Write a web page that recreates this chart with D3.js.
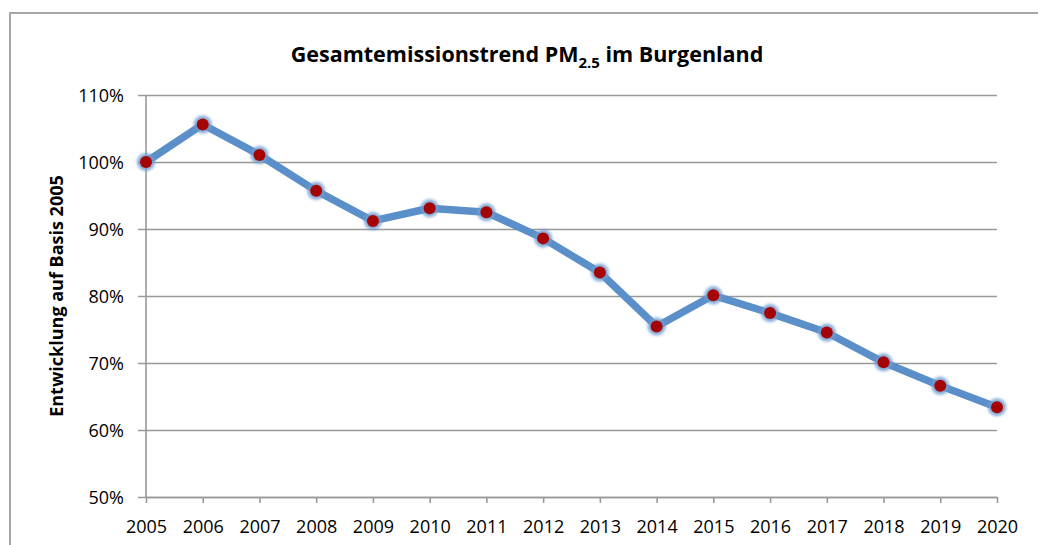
<!DOCTYPE html>
<html>
<head>
<meta charset="utf-8">
<script src="https://cdn.jsdelivr.net/npm/d3@7"></script>
<style>
  body { margin: 0; background: #fff; }
  svg { display: block; font-family: "Open Sans", sans-serif; }
</style>
</head>
<body>
<svg id="chart" width="1038" height="545"></svg>
<script>
// data
const years = [2005, 2006, 2007, 2008, 2009, 2010, 2011, 2012, 2013, 2014, 2015, 2016, 2017, 2018, 2019, 2020]
const values = [100, 105.6, 101.05, 95.7, 91.2, 93.1, 92.5, 88.6, 83.5, 75.45, 80.1, 77.45, 74.55, 70.1, 66.6, 63.4]
const yTicks = [50, 60, 70, 80, 90, 100, 110]

const svg = d3.select("svg#chart")
const margin = { top: 95, right: 41, bottom: 48, left: 146 }
const width = 1038 - margin.left - margin.right
const height = 545 - margin.top - margin.bottom

// chart frame
svg.append("rect")
    .attr("x", 10).attr("y", 13)
    .attr("width", 1060).attr("height", 600)
    .attr("fill", "none")
    .attr("stroke", "#a6a6a6")
    .attr("stroke-width", 2)

const x = d3.scalePoint()
    .domain(years)
    .range([0, width])

const y = d3.scaleLinear()
    .domain([50, 110])
    .range([height, 0])

const g = svg.append("g")
    .attr("transform", `translate(${margin.left},${margin.top})`)

// y axis with gridlines
const yAxis = d3.axisLeft(y)
    .tickValues(yTicks)
    .tickSize(-width)
    .tickFormat(d => d + "%")

g.append("g")
    .attr("class", "y-axis")
    .call(yAxis)
    .attr("font-family", null)
    .attr("font-size", null)
    .call(a => a.select(".domain").remove())
    .call(a => a.selectAll(".tick line").attr("stroke", "#999").attr("stroke-width", 1.6).attr("x1", -8))
    .call(a => a.selectAll(".tick text").attr("x", -22).attr("dy", "0.36em")
        .style("font-size", "18px").attr("fill", "#000"))

// x axis
const xAxis = d3.axisBottom(x)
    .tickSize(6)
    .tickSizeOuter(0)

g.append("g")
    .attr("class", "x-axis")
    .attr("transform", `translate(0,${height})`)
    .call(xAxis)
    .attr("font-family", null)
    .attr("font-size", null)
    .call(a => a.select(".domain").attr("stroke", "#999").attr("stroke-width", 1.6))
    .call(a => a.selectAll(".tick line").attr("stroke", "#999").attr("stroke-width", 1.6))
    .call(a => a.selectAll(".tick text").attr("y", 23).attr("dy", "0.71em")
        .style("font-size", "18px").attr("fill", "#000"))

// vertical axis line
g.append("line")
    .attr("x1", 0).attr("x2", 0)
    .attr("y1", 0).attr("y2", height)
    .attr("stroke", "#999")
    .attr("stroke-width", 1.6)

// glow filter for markers
const defs = svg.append("defs")
const glow = defs.append("filter").attr("id", "glow")
    .attr("x", "-100%").attr("y", "-100%").attr("width", "300%").attr("height", "300%")
glow.append("feGaussianBlur").attr("stdDeviation", 1.8)

const line = d3.line()
    .x((d, i) => x(years[i]))
    .y(d => y(d))

g.append("path")
    .datum(values)
    .attr("fill", "none")
    .attr("stroke", "#5b8fc9")
    .attr("stroke-width", 7.5)
    .attr("stroke-linejoin", "round")
    .attr("d", line)

// markers: soft blue halo, dark red dot
g.selectAll(".halo")
    .data(values)
    .enter()
    .append("circle")
    .attr("cx", (d, i) => x(years[i]))
    .attr("cy", d => y(d))
    .attr("r", 9)
    .attr("fill", "#6f9bd0")
    .attr("opacity", 0.85)
    .attr("filter", "url(#glow)")

g.selectAll(".dot")
    .data(values)
    .enter()
    .append("circle")
    .attr("cx", (d, i) => x(years[i]))
    .attr("cy", d => y(d))
    .attr("r", 6)
    .attr("fill", "#a50404")

// title
const title = svg.append("text")
    .attr("x", 527)
    .attr("y", 62)
    .attr("text-anchor", "middle")
    .style("font-size", "21.5px")
    .style("font-weight", "bold")
title.append("tspan").text("Gesamtemissionstrend PM")
title.append("tspan").attr("dy", 6).style("font-size", "15px").text("2.5")
title.append("tspan").attr("dy", -6).text(" im Burgenland")

// y axis title
svg.append("text")
    .attr("transform", "translate(63,296) rotate(-90)")
    .attr("text-anchor", "middle")
    .style("font-size", "18px")
    .style("font-weight", "bold")
    .text("Entwicklung auf Basis 2005")
</script>
</body>
</html>
